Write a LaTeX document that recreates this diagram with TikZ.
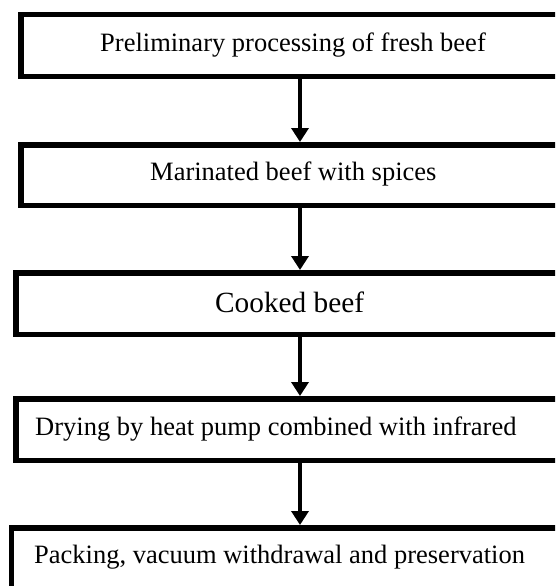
\documentclass[tikz,border=0pt]{standalone}
\usepackage{fontspec}
\setmainfont{Liberation Serif}
\usetikzlibrary{arrows.meta,positioning}

\begin{document}
\begin{tikzpicture}[x=1pt, y=-1pt,
    stagebox/.style={draw, line width=5.5pt, rectangle, anchor=north west, minimum width=700pt},
    stagetext/.style={font=\fontsize{26.5}{30}\selectfont, inner sep=0pt, anchor=base west},
    flow/.style={line width=4pt, -{Triangle[length=14pt,width=17pt]}}]
  % Define dimensions
  \def\W{555}
  \def\H{586}
  \def\ArrowX{300}
  \useasboundingbox (0,0) rectangle (\W,\H);
  \clip (0,0) rectangle (\W,\H);

  % Draw boxes (they run off the right edge)
  \node[stagebox, minimum height=61.5pt] (prelim) at (18,12) {};
  \node[stagebox, minimum height=60.5pt] (marin) at (18,142) {};
  \node[stagebox, minimum height=61.5pt] (cook) at (13,270) {};
  \node[stagebox, minimum height=61.5pt] (dry) at (13,396) {};
  \node[stagebox, minimum height=100pt] (pack) at (8.5,525) {};

  % Label boxes
  \node[stagetext] (prelimtxt) at (100,52) {Preliminary processing of fresh beef};
  \node[stagetext] (marintxt) at (150,180) {Marinated beef with spices};
  \node[stagetext, font=\fontsize{29.3}{33}\selectfont] (cooktxt) at (215,312) {Cooked beef};
  \node[stagetext] (drytxt) at (35,435) {Drying by heat pump combined with infrared};
  \node[stagetext] (packtxt) at (34,563) {Packing, vacuum withdrawal and preservation};

  % Draw arrows
  \coordinate (axis) at (\ArrowX,0);
  \draw[flow] (prelim.south -| axis) -- (marin.north -| axis);
  \draw[flow] (marin.south -| axis) -- (cook.north -| axis);
  \draw[flow] (cook.south -| axis) -- (dry.north -| axis);
  \draw[flow] (dry.south -| axis) -- (pack.north -| axis);
\end{tikzpicture}
\end{document}
